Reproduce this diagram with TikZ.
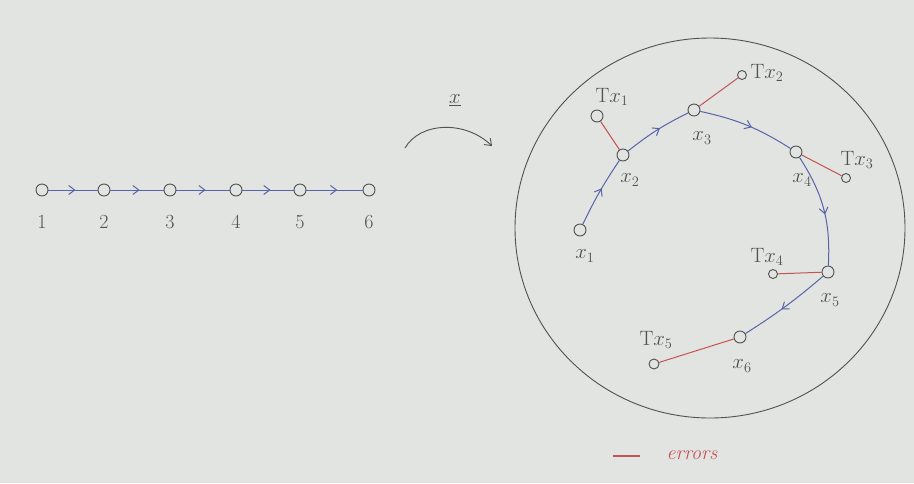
\documentclass[tikz,border=0pt]{standalone}
\usetikzlibrary{arrows.meta,decorations.markings}
\definecolor{paper}{RGB}{226,228,225}
\definecolor{pencil}{RGB}{80,82,82}
\definecolor{ink}{RGB}{88,100,168}
\definecolor{errcol}{RGB}{196,84,84}
\begin{document}
\begin{tikzpicture}[x=1pt,y=-1pt,
	vtx/.style={circle, inner sep=0pt, minimum size=12pt, draw=pencil, fill=paper, line width=0.9pt},
	tx/.style={circle, inner sep=0pt, minimum size=9pt, draw=pencil, fill=paper, line width=0.9pt},
	lbl/.style={text=pencil, font=\fontsize{20}{22}\selectfont},
	flow/.style={draw=ink, line width=1pt, postaction={decorate}, decoration={markings, mark=at position 0.55 with {\arrow{Straight Barb[length=6pt,width=9pt]}}}},
	errline/.style={draw=errcol, line width=1pt}]
		\fill[paper] (0,0) rectangle (914,483);
		\useasboundingbox (0,0) rectangle (914,483);
		\node[vtx] (p1) at (42,190){};
		\node[vtx] (p2) at (104,190){};
		\node[vtx] (p3) at (170,190){};
		\node[vtx] (p4) at (236,190){};
		\node[vtx] (p5) at (300,190){};
		\node[vtx] (p6) at (369,190){};
		\draw[flow] (p1) -- (p2);
		\draw[flow] (p2) -- (p3);
		\draw[flow] (p3) -- (p4);
		\draw[flow] (p4) -- (p5);
		\draw[flow] (p5) -- (p6);
		\node[lbl] (n1) at (42,222){1};
		\node[lbl] (n2) at (104,222){2};
		\node[lbl] (n3) at (170,222){3};
		\node[lbl] (n4) at (236,222){4};
		\node[lbl] (n5) at (300,222){5};
		\node[lbl] (n6) at (369,222){6};
		\node[lbl] (mx) at (455,100){\underline{$x$}};
		\coordinate (m1) at (405,148);
		\coordinate (m2) at (492,146);
		\draw[pencil, line width=0.9pt, -{Straight Barb[length=6pt,width=9pt]}] (m1) .. controls (420,122) and (465,120) .. (m2);
		\draw[pencil, line width=0.9pt] (710,228) ellipse [x radius=195, y radius=190];
		\node[vtx] (x1) at (580,230){};
		\node[vtx] (x2) at (623,155){};
		\node[vtx] (x3) at (694,110){};
		\node[vtx] (x4) at (796,152){};
		\node[vtx] (x5) at (828,272){};
		\node[vtx] (x6) at (740,337){};
		\node[vtx] (t1) at (597,116){};
		\node[tx] (t2) at (742,75){};
		\node[tx] (t3) at (846,178){};
		\node[tx] (t4) at (773,274){};
		\node[tx, minimum size=10pt] (t5) at (654,364){};
		\draw[flow] (x1) to[bend left=4] (x2);
		\draw[flow] (x2) to[bend left=6] (x3);
		\draw[flow] (x3) to[bend left=10] (x4);
		\draw[flow] (x4) to[bend left=18] (x5);
		\draw[flow] (x5) to[bend left=4] (x6);
		\draw[errline] (x2) -- (t1);
		\draw[errline] (x3) -- (t2);
		\draw[errline] (x4) -- (t3);
		\draw[errline] (x5) -- (t4);
		\draw[errline] (x6) -- (t5);
		\node[lbl] (lx1) at (585,256){$x_1$};
		\node[lbl] (lx2) at (630,180){$x_2$};
		\node[lbl] (lx3) at (702,138){$x_3$};
		\node[lbl] (lx4) at (802,180){$x_4$};
		\node[lbl] (lx5) at (830,300){$x_5$};
		\node[lbl] (lx6) at (742,366){$x_6$};
		\node[lbl] (lt1) at (612,97){$\mathrm{T}x_1$};
		\node[lbl] (lt2) at (767,73){$\mathrm{T}x_2$};
		\node[lbl] (lt3) at (857,160){$\mathrm{T}x_3$};
		\node[lbl] (lt4) at (767,257){$\mathrm{T}x_4$};
		\node[lbl] (lt5) at (656,340){$\mathrm{T}x_5$};
		\coordinate (e1) at (613,456);
		\coordinate (e2) at (640,456);
		\draw[errline, line width=2pt] (e1) -- (e2);
		\node[lbl, text=errcol, font=\fontsize{20}{22}\selectfont\itshape] (le) at (692,455){errors};
\end{tikzpicture}
\end{document}
